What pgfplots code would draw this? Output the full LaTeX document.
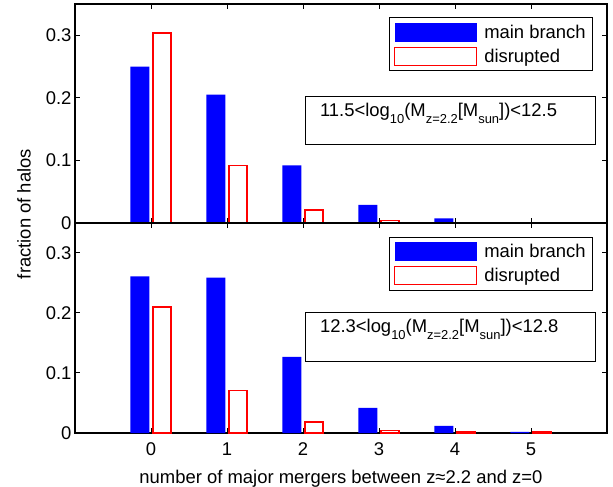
\documentclass[border=0pt]{standalone}
\usepackage{pgfplots}
\pgfplotsset{compat=1.18}
\usepackage{fontspec}
\setmainfont{Liberation Sans}
\definecolor{mblue}{RGB}{0,0,255}
\definecolor{mred}{RGB}{255,0,0}
\newcommand\sub[1]{\raisebox{-7bp}{\fontsize{13}{13}\selectfont #1}}
\pgfplotsset{
 mystyle/.style={
  scale only axis, width=532bp, xmin=-1, xmax=6, ymin=0, ymax=0.35,
  xtick={0,...,5}, ytick={0,0.1,0.2,0.3}, yticklabels={0,0.1,0.2,0.3},
  tick align=inside, major tick length=5bp,
  axis line style={line width=1.5bp},
  every tick/.style={line width=1bp, black},
  font=\fontsize{18.5}{22}\selectfont,
  /pgf/number format/assume math mode=true,
  clip=false,
  legend cell align=left,
  legend style={anchor=north east, draw=black, line width=1bp, fill=white,
    font=\fontsize{18.5}{22}\selectfont, inner xsep=5bp, inner ysep=5bp,
    row sep=5bp, /tikz/every odd column/.append style={column sep=5bp}},
 },
 mainbar/.style={ybar, bar width=0.25, bar shift=-0.145, fill=mblue, draw=none,
   legend image code/.code={\fill[mblue] (9bp,-9.5bp) rectangle (91bp,9.5bp);}},
 disbar/.style={ybar, bar width=0.24, bar shift=0.145, fill=white, draw=mred, line width=1.5bp,
   legend image code/.code={\draw[mred, line width=1bp, fill=white] (9bp,-9bp) rectangle (91bp,9bp);}},
}
\begin{document}
\begin{tikzpicture}
\path[use as bounding box] (0,0) rectangle (613bp,487bp);
% top panel
\begin{axis}[mystyle, at={(75bp,264bp)}, anchor=south west, height=219bp,
  xticklabels={},
  legend style={at={(axis description cs:0.974,0.94)}}]
\addplot[mainbar] coordinates {(0,0.250) (1,0.205) (2,0.092) (3,0.029) (4,0.0075) (5,0.0015)};
\addplot[disbar] coordinates {(0,0.304) (1,0.092) (2,0.021) (3,0.004) (4,0.001) (5,0.0005)};
\legend{main branch, disrupted}
\node[draw=black, line width=1bp, anchor=north west, minimum width=290bp, minimum height=48.6bp, inner sep=0pt] (boxa) at (axis description cs:0.432,0.581) {};
\node[anchor=north west, inner sep=0pt] at ([xshift=15bp,yshift=-7bp]boxa.north west) {11.5<log\sub{10}(M\sub{z=2.2}[M\sub{sun}])<12.5};
\end{axis}
% bottom panel
\begin{axis}[mystyle, at={(75bp,54bp)}, anchor=south west, height=210bp,
  xticklabels={0,1,2,3,4,5},
  xticklabel style={yshift=-6bp},
  xlabel={number of major mergers between z≈2.2 and z=0},
  xlabel style={yshift=-8bp},
  legend style={at={(axis description cs:0.974,0.935)}}]
\addplot[mainbar] coordinates {(0,0.261) (1,0.259) (2,0.127) (3,0.042) (4,0.012) (5,0.002)};
\addplot[disbar] coordinates {(0,0.210) (1,0.071) (2,0.018) (3,0.004) (4,0.002) (5,0.0015)};
\legend{main branch, disrupted}
\node[draw=black, line width=1bp, anchor=north west, minimum width=290bp, minimum height=49bp, inner sep=0pt] (boxb) at (axis description cs:0.432,0.578) {};
\node[anchor=north west, inner sep=0pt] at ([xshift=15bp,yshift=-7bp]boxb.north west) {12.3<log\sub{10}(M\sub{z=2.2}[M\sub{sun}])<12.8};
\end{axis}
\node[rotate=90, font=\fontsize{18.5}{22}\selectfont] at (24bp,273bp) {fraction of halos};
\end{tikzpicture}
\end{document}
